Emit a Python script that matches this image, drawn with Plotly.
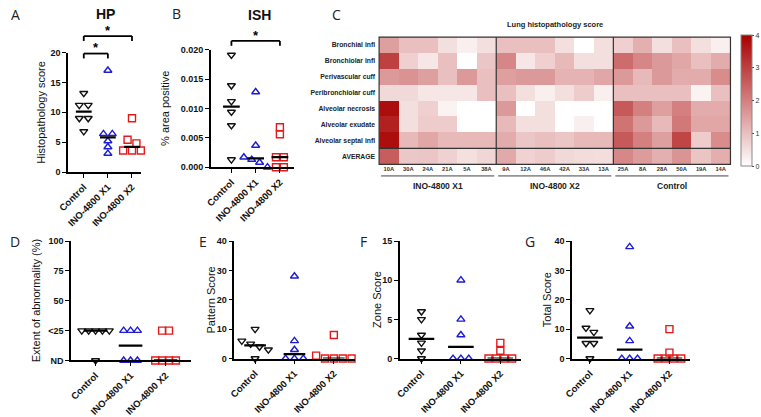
import numpy as np
import plotly.graph_objects as go

W, H = 761, 417

groups = ["Control", "INO-4800 X1", "INO-4800 X2"]

# Panel A - HP histopathology score
hp_control = [13.2, 11.2, 11.2, 9.0, 9.0, 6.8]
hp_x1 = [17.0, 6.4, 6.4, 5.2, 4.2, 3.1]
hp_x2 = [9.0, 5.4, 4.8, 3.6, 3.6, 3.6]

# Panel B - ISH % area positive
ish_control = [0.0191, 0.0139, 0.0112, 0.0094, 0.0071, 0.0013]
ish_x1 = [0.0128, 0.0037, 0.0017, 0.0013, 0.0008, 0.0]
ish_x2 = [0.0068, 0.0056, 0.0017, 0.0017, 0.0, 0.0]

# Panel D - extent of abnormality (0 = ND, 25 = <25)
ext_control = [25, 25, 25, 25, 25, 0]
ext_x1 = [25, 25, 25, 0, 0, 0]
ext_x2 = [25, 25, 0, 0, 0, 0]

# Panel E - pattern score
pat_control = [10, 6, 5, 4, 3, 0]
pat_x1 = [28, 6, 3, 0, 0, 0]
pat_x2 = [8, 1, 0, 0, 0, 0]

# Panel F - zone score
zone_control = [6, 5, 3, 2, 1, 0]
zone_x1 = [10, 5, 3, 0, 0, 0]
zone_x2 = [2, 1, 0, 0, 0, 0]

# Panel G - total score
tot_control = [16.4, 10.4, 9.0, 5.2, 5.2, 0]
tot_x1 = [38, 11, 6, 0, 0, 0]
tot_x2 = [10, 2, 0, 0, 0, 0]

# Panel C - lung histopathology heatmap
hm_title = "Lung histopathology score"
hm_rows = ["Bronchial infl", "Bronchiolar infl", "Perivascular cuff", "Peribronchiolar cuff",
           "Alveolar necrosis", "Alveolar exudate", "Alveolar septal infl"]
hm_avg_label = "AVERAGE"
hm_cols = ["10A", "30A", "24A", "21A", "5A", "38A",
           "9A", "12A", "46A", "42A", "33A", "13A",
           "25A", "8A", "28A", "50A", "19A", "14A"]
hm_groups = ["INO-4800 X1", "INO-4800 X2", "Control"]
hm_bronchial = [1.5, 1.0, 1.0, 0.5, 0.25, 0.5, 1.0, 1.0, 1.0, 0.5, 0.0, 0.5, 0.75, 1.25, 0.5, 1.0, 0.5, 0.25]
hm_bronchiolar = [3.0, 0.75, 0.4, 1.0, 0.0, 0.9, 1.9, 0.4, 0.75, 1.1, 0.5, 0.5, 2.3, 1.9, 1.6, 1.4, 1.0, 1.3]
hm_perivascular = [1.6, 1.7, 1.5, 1.0, 1.6, 1.0, 1.5, 1.6, 1.6, 1.2, 1.2, 1.4, 1.6, 1.1, 1.6, 1.3, 1.3, 1.8]
hm_peribronchiolar = [0.6, 0.6, 0.4, 0.4, 0.4, 1.0, 1.0, 0.5, 0.25, 0.5, 0.8, 0.25, 1.0, 1.0, 1.0, 1.0, 0.2, 1.0]
hm_necrosis = [3.8, 0.5, 0.75, 0.2, 0.0, 0.0, 1.6, 0.0, 0.5, 0.0, 0.0, 0.0, 2.6, 2.0, 1.5, 2.0, 1.3, 1.3]
hm_exudate = [3.5, 0.5, 0.8, 0.8, 0.0, 0.0, 1.1, 0.5, 0.5, 0.0, 0.25, 0.0, 2.2, 1.6, 1.1, 2.1, 1.4, 1.4]
hm_septal = [3.8, 1.1, 1.4, 1.1, 1.1, 1.1, 1.3, 0.9, 1.0, 0.9, 1.1, 1.1, 2.6, 2.0, 1.5, 2.9, 0.8, 1.8]

# ---------------------------------------------------------------- styling
FONT = "Liberation Sans"
colors = ["#111111", "#1c1cd6", "#e31a1c"]
symbols = ["triangle-down-open", "triangle-up-open", "square-open"]


def px_x(p):
    return p / W


def px_y(p):
    return 1 - p / H


panels = [
    dict(n=1, box=(58, 132, 49, 172), xr=(0.35, 3.37), yr=(0, 20), yt=[0, 5, 10, 15, 20], ytt=None,
         title="Histopathology score", tx=31, data=[hp_control, hp_x1, hp_x2], step=9, hw=8),
    dict(n=2, box=(203, 288, 46, 167), xr=(0.15, 3.6), yr=(0, 0.02),
         yt=[0, 0.005, 0.01, 0.015, 0.02], ytt=["0.000", "0.005", "0.010", "0.015", "0.020"],
         title="% area positive", tx=157, data=[ish_control, ish_x1, ish_x2], step=8, hw=8.5),
    dict(n=4, box=(61, 183, 243, 366), xr=(0.30, 3.73), yr=(0, 100), yt=[0, 25, 50, 75, 100],
         ytt=["ND", "<25", "50", "75", "100"], title="Extent of abnormality (%)", tx=25,
         data=[ext_control, ext_x1, ext_x2], step=7, hw=12),
    dict(n=5, box=(227, 350, 243, 364), xr=(0.475, 3.55), yr=(0, 40), yt=[0, 10, 20, 30, 40], ytt=None,
         title="Pattern Score", tx=203, data=[pat_control, pat_x1, pat_x2], step=9, hw=11),
    dict(n=6, box=(395, 518, 243, 364), xr=(0.45, 3.52), yr=(0, 15), yt=[0, 5, 10, 15], ytt=None,
         title="Zone Score", tx=372, data=[zone_control, zone_x1, zone_x2], step=8, hw=13),
    dict(n=7, box=(570, 690, 243, 364), xr=(0.55, 3.52), yr=(0, 40), yt=[0, 10, 20, 30, 40], ytt=None,
         title="Total Score", tx=544, data=[tot_control, tot_x1, tot_x2], step=8, hw=13),
]


def swarm_offsets(vals, ypx_per_unit, step_px, thresh_px=5.0):
    vals = np.asarray(vals, float)
    order = np.argsort(-vals, kind="stable")
    clusters, cur = [], [order[0]]
    for i in order[1:]:
        if abs(vals[cur[-1]] - vals[i]) * ypx_per_unit < thresh_px:
            cur.append(i)
        else:
            clusters.append(cur)
            cur = [i]
    clusters.append(cur)
    off = np.zeros(len(vals))
    for c in clusters:
        n = len(c)
        for k, idx in enumerate(c):
            off[idx] = (k - (n - 1) / 2) * step_px
    return off


fig = go.Figure()
layout = dict(
    width=W, height=H, margin=dict(l=0, r=0, t=0, b=0),
    paper_bgcolor="white", plot_bgcolor="white", showlegend=False,
    font=dict(family=FONT, color="#111111"),
)
annotations = []
shapes = []


def note(x, y, text, font, **kw):
    d = dict(x=px_x(x), y=px_y(y), xref="paper", yref="paper", text=text, showarrow=False,
             xanchor="center", yanchor="middle", font=font)
    d.update(kw)
    annotations.append(d)


def data_x_to_px(P, x):
    x0, x1, _, _ = P["box"]
    r0, r1 = P["xr"]
    return x0 + (x - r0) / (r1 - r0) * (x1 - x0)


for P in panels:
    n = P["n"]
    x0, x1, y0, y1 = P["box"]
    r0, r1 = P["xr"]
    ypu = (y1 - y0) / (P["yr"][1] - P["yr"][0])
    xpu = (x1 - x0) / (r1 - r0)
    xa = "x" if n == 1 else f"x{n}"
    ya = "y" if n == 1 else f"y{n}"
    for gi, vals in enumerate(P["data"]):
        c = gi + 1
        off = swarm_offsets(vals, ypu, P["step"]) / xpu
        fig.add_trace(go.Scatter(
            x=c + off, y=vals, mode="markers", xaxis=xa, yaxis=ya, cliponaxis=False,
            marker=dict(symbol=symbols[gi], size=7, color=colors[gi], line=dict(width=1.4)),
            hoverinfo="y"))
        med = float(np.median(vals))
        hw = P["hw"] / xpu
        fig.add_trace(go.Scatter(
            x=[c - hw, c + hw], y=[med, med], mode="lines", xaxis=xa, yaxis=ya,
            line=dict(color="black", width=2.2), hoverinfo="skip"))
    key = "" if n == 1 else str(n)
    layout["xaxis" + key] = dict(
        domain=[px_x(x0), px_x(x1)], range=list(P["xr"]), anchor=ya,
        tickvals=[1, 2, 3], ticktext=groups, tickangle=-45,
        ticks="outside", ticklen=4, tickwidth=1.3, tickcolor="black",
        showline=True, linecolor="black", linewidth=1.6,
        showgrid=False, zeroline=False,
        tickfont=dict(size=9.5, family=FONT, color="#111", weight="bold"),
    )
    yax = dict(
        domain=[px_y(y1), px_y(y0)], range=list(P["yr"]), anchor=xa,
        tickvals=P["yt"], ticks="outside", ticklen=4, tickwidth=1.3, tickcolor="black",
        showline=True, linecolor="black", linewidth=1.6,
        showgrid=False, zeroline=False,
        tickfont=dict(size=9, family=FONT, color="#111", weight="bold"),
    )
    if P["ytt"] is not None:
        yax["ticktext"] = P["ytt"]
    layout["yaxis" + key] = yax
    note(P["tx"], (y0 + y1) / 2, P["title"], dict(size=11, family=FONT, color="#111"), textangle=-90)


# significance brackets
def bracket(P, a, b, ypx, star_ypx):
    xa_ = data_x_to_px(P, a)
    xb_ = data_x_to_px(P, b)
    line = dict(color="black", width=1.8)
    shapes.append(dict(type="line", xref="paper", yref="paper", x0=px_x(xa_), x1=px_x(xb_),
                       y0=px_y(ypx), y1=px_y(ypx), line=line))
    for xx in (xa_, xb_):
        shapes.append(dict(type="line", xref="paper", yref="paper", x0=px_x(xx), x1=px_x(xx),
                           y0=px_y(ypx), y1=px_y(ypx + 5), line=line))
    note((xa_ + xb_) / 2, star_ypx, "*", dict(size=13, family=FONT, color="black", weight="bold"))


bracket(panels[0], 1, 2, 50, 44)
bracket(panels[0], 1, 3, 32, 26)
bracket(panels[1], 1, 3, 37, 31)

# panel titles and letters
for txt, xx, yy in [("HP", 96, 9), ("ISH", 252, 10)]:
    note(xx, yy, txt, dict(size=14, family=FONT, color="#111", weight="bold"))
for txt, xx, yy in [("A", 5, 10), ("B", 168, 9), ("C", 331, 10), ("D", 4, 244),
                    ("E", 195, 244), ("F", 358, 244), ("G", 527, 243)]:
    note(xx, yy, txt, dict(size=14, family="Open Sans", color="#222"))

# ---------------------------------------------------------------- heatmap
hm_z = np.array([hm_bronchial, hm_bronchiolar, hm_perivascular, hm_peribronchiolar,
                 hm_necrosis, hm_exudate, hm_septal])
hm_avg = hm_z.mean(axis=0)
hm_all = np.vstack([hm_z, hm_avg])
row_labels = hm_rows + [hm_avg_label]
ncol, nrow = len(hm_cols), len(row_labels)
HX0, HX1, HY0, HY1 = 374, 731, 33, 164

fig.add_trace(go.Heatmap(
    z=hm_all, x=list(range(ncol)), y=list(range(nrow)), xaxis="x3", yaxis="y3",
    zmin=0, zmax=4, colorscale=[[0, "#ffffff"], [1, "#a80000"]],
    colorbar=dict(x=px_x(742), xanchor="left", xpad=0, ypad=0, y=px_y((HY0 + HY1) / 2), yanchor="middle",
                  thickness=11, thicknessmode="pixels", len=HY1 - HY0, lenmode="pixels",
                  outlinewidth=1, outlinecolor="#888", tickvals=[0, 1, 2, 3, 4], ticks="outside",
                  ticklen=2, tickcolor="#444", tickfont=dict(size=7, family=FONT, color="#333")),
    hovertemplate="%{z:.2f}<extra></extra>"))

layout["xaxis3"] = dict(domain=[px_x(HX0), px_x(HX1)], range=[-0.5, ncol - 0.5], anchor="y3",
                        tickvals=list(range(ncol)), ticktext=hm_cols, ticks="", showgrid=False,
                        zeroline=False, showline=False,
                        tickfont=dict(size=5.8, family=FONT, color="#333", weight="bold"))
layout["yaxis3"] = dict(domain=[px_y(HY1), px_y(HY0)], range=[nrow - 0.5, -0.5], anchor="x3",
                        tickvals=list(range(nrow)), ticktext=row_labels, ticks="", showgrid=False,
                        zeroline=False, showline=False, ticklabelstandoff=3,
                        tickfont=dict(size=6.8, family=FONT, color="#222", weight="bold"))

dark = dict(color="#333333", width=1.2)
shapes.append(dict(type="rect", xref="x3 domain", yref="y3 domain", x0=0, x1=1, y0=0, y1=1, line=dark))
ng = len(hm_groups)
per = ncol // ng
for g in range(1, ng):
    fx = g * per / ncol
    shapes.append(dict(type="line", xref="x3 domain", yref="y3 domain", x0=fx, x1=fx, y0=0, y1=1, line=dark))
shapes.append(dict(type="line", xref="x3 domain", yref="y3 domain", x0=0, x1=1,
                   y0=1 / nrow, y1=1 / nrow, line=dark))

cw = (HX1 - HX0) / ncol
for g, name in enumerate(hm_groups):
    gx0 = HX0 + g * per * cw + 2
    gx1 = HX0 + (g + 1) * per * cw - 2
    shapes.append(dict(type="line", xref="paper", yref="paper", x0=px_x(gx0), x1=px_x(gx1),
                       y0=px_y(176), y1=px_y(176), line=dict(color="#444", width=1)))
    note((gx0 + gx1) / 2, 186, name, dict(size=8.5, family=FONT, color="#222", weight="bold"))
note((HX0 + HX1) / 2, 20, hm_title, dict(size=7.5, family=FONT, color="#222", weight="bold"))

layout["annotations"] = annotations
layout["shapes"] = shapes
fig.update_layout(**layout)
fig.write_html("out.html", post_script="document.body.style.margin='0';",
               config={"displayModeBar": False})
